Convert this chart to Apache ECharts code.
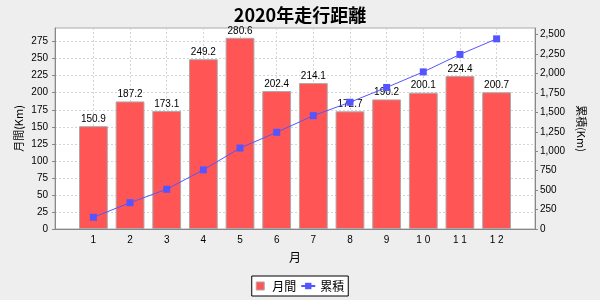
<!DOCTYPE html>
<html>
<head>
<meta charset="utf-8">
<script src="https://cdn.jsdelivr.net/npm/echarts@6/dist/echarts.min.js"></script>
<style>html,body{margin:0;padding:0;background:#eeeeee;}#c{width:600px;height:300px;}</style>
</head>
<body>
<div id="c"></div>
<script>
const months = ['1','2','3','4','5','6','7','8','9','1 0','1 1','1 2'];
const monthly = [150.9,187.2,173.1,249.2,280.6,202.4,214.1,172.7,190.2,200.1,224.4,200.7];
const cumulative = [150.9,338.1,511.2,760.4,1041.0,1243.4,1457.5,1630.2,1820.4,2020.5,2244.9,2445.6];
const leftMax = 295, leftInterval = 25;
const rightMax = 2585, rightInterval = 250;

const FONT = "'Liberation Sans', 'Noto Sans CJK JP', sans-serif";
const CJK = "'Noto Sans CJK JP', sans-serif";
const plotL = 55, plotR = 535, plotT = 28, plotB = 229;
const W = plotR - plotL, n = months.length;
const catW = W * 0.9 * 0.8 / n;
const gap = W * 0.9 * 0.2 / (n - 1);
const band = catW + gap;
const firstCenter = plotL + W * 0.05 + catW / 2;
const lastCenter = firstCenter + band * (n - 1);
const bandL = firstCenter - band / 2;
const bandR = bandL + band * n;

const gridCol = '#d4d4d4';
const axisCol = '#888888';

const chart = echarts.init(document.getElementById('c'), null, {renderer: 'canvas'});
chart.setOption({
  backgroundColor: '#eeeeee',
  animation: false,
  textStyle: {fontFamily: FONT},
  title: {
    text: '2020年走行距離', left: 'center', top: 1,
    textStyle: {fontSize: 18, fontWeight: 'bold', color: '#000', fontFamily: CJK}
  },
  legend: {
    top: 276, left: 'center', padding: [4, 4], itemGap: 4,
    itemWidth: 14, itemHeight: 8,
    borderColor: '#000', borderWidth: 1, backgroundColor: '#fff', borderRadius: 0,
    textStyle: {fontSize: 12, color: '#000', fontFamily: CJK},
    data: [
      {name: '月間', icon: 'path://M0,0H10V10H0Z', itemStyle: {borderColor: '#aaaaaa', borderWidth: 1}},
      {name: '累積'}
    ]
  },
  grid: [
    {left: plotL, right: 600 - plotR, top: plotT, bottom: 300 - plotB, show: true,
     backgroundColor: '#ffffff', borderColor: '#aaaaaa', borderWidth: 1},
    {left: bandL, right: 600 - bandR, top: plotT, bottom: 300 - plotB},
    {left: firstCenter, right: 600 - lastCenter, top: plotT, bottom: 300 - plotB}
  ],
  xAxis: [
    {gridIndex: 0, type: 'value', min: 0, max: 1,
     axisLine: {show: true, lineStyle: {color: axisCol}},
     axisTick: {show: false}, axisLabel: {show: false}, splitLine: {show: false},
     name: '月', nameLocation: 'middle', nameGap: 22,
     nameTextStyle: {fontSize: 12, color: '#000', fontFamily: CJK}},
    {gridIndex: 1, type: 'category', data: months,
     axisLine: {show: false}, axisTick: {show: false},
     axisLabel: {fontSize: 10, color: '#000', margin: 6, interval: 0},
     splitLine: {show: false}},
    {gridIndex: 2, type: 'category', data: months, boundaryGap: false,
     axisLine: {show: false}, axisTick: {show: false},
     axisLabel: {show: false, interval: 0},
     splitLine: {show: true, interval: 0, lineStyle: {color: gridCol, type: [2, 2], width: 1}}}
  ],
  yAxis: [
    {gridIndex: 0, type: 'value', position: 'left', min: 0, max: leftMax, interval: leftInterval,
     axisLine: {show: true, lineStyle: {color: axisCol}},
     axisTick: {show: true, length: 3, lineStyle: {color: axisCol}},
     axisLabel: {fontSize: 10, color: '#000', margin: 7, showMaxLabel: false},
     splitLine: {show: true, lineStyle: {color: gridCol, type: [2, 2], width: 1}},
     name: '月間(Km)', nameLocation: 'middle', nameGap: 31, nameRotate: 90, nameMoveOverlap: false,
     nameTextStyle: {fontSize: 11, color: '#000', fontFamily: CJK}},
    {gridIndex: 0, type: 'value', position: 'right', min: 0, max: rightMax, interval: rightInterval,
     axisLine: {show: true, lineStyle: {color: axisCol}},
     axisTick: {show: true, length: 3, lineStyle: {color: axisCol}},
     axisLabel: {fontSize: 10, color: '#000', margin: 5, showMaxLabel: false,
       formatter: v => v.toLocaleString('en-US')},
     splitLine: {show: false},
     name: '累積(Km)', nameLocation: 'middle', nameGap: 41, nameRotate: -90, nameMoveOverlap: false,
     nameTextStyle: {fontSize: 11, color: '#000', fontFamily: CJK}},
    {gridIndex: 1, type: 'value', min: 0, max: leftMax, show: false, splitLine: {show: false}},
    {gridIndex: 1, type: 'value', min: 0, max: rightMax, show: false, position: 'right', splitLine: {show: false}},
    {gridIndex: 2, type: 'value', min: 0, max: 1, show: false, splitLine: {show: false}}
  ],
  series: [
    {name: '月間', type: 'bar', xAxisIndex: 1, yAxisIndex: 2, data: monthly,
     barWidth: catW,
     itemStyle: {color: '#ff5555', borderColor: '#aaaaaa', borderWidth: 1},
     label: {show: true, position: 'top', distance: 2, fontSize: 10, color: '#000',
       formatter: p => p.value.toFixed(1)}},
    {name: '累積', type: 'line', xAxisIndex: 1, yAxisIndex: 3, data: cumulative,
     symbol: 'rect', symbolSize: 7, showAllSymbol: true,
     lineStyle: {color: '#5555ff', width: 1},
     itemStyle: {color: '#5555ff'}, z: 3}
  ]
});
</script>
</body>
</html>
